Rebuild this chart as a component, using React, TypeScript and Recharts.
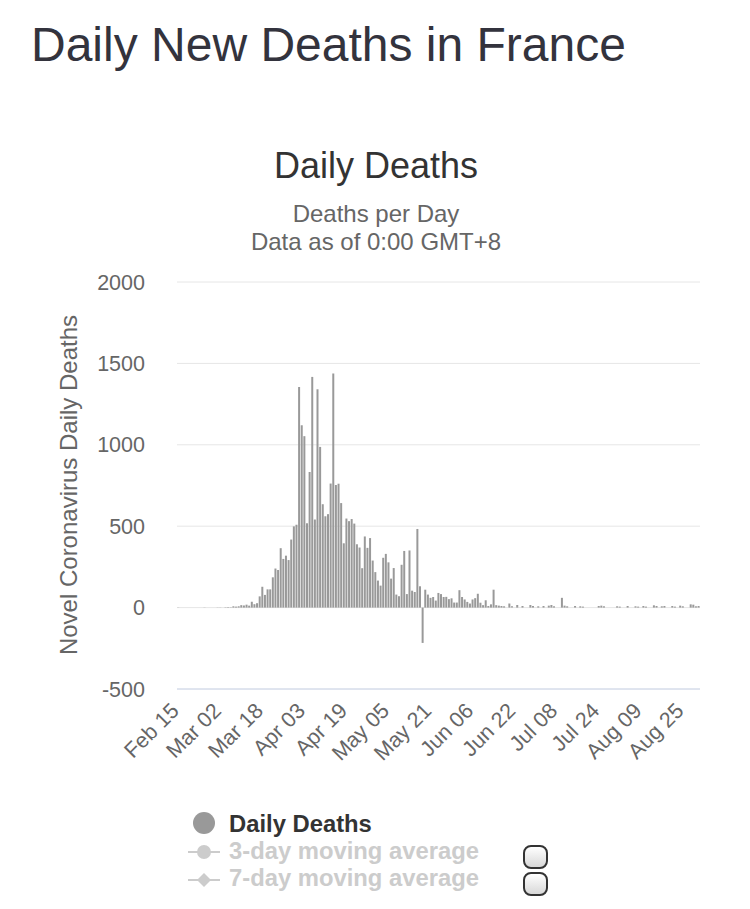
import { BarChart, Bar, XAxis, YAxis, CartesianGrid, Legend } from 'recharts';

const FONT = '"Liberation Sans", Arial, Helvetica, sans-serif';

// daily deaths, one array per month
const febDeaths = [1, 0, 0, 0, 0, 0, 0, 0, 0, 0, 1, 0, 0, 0, 0]; // Feb 15..29
const marDeaths = [1, 1, 0, 2, 3, 2, 8, 6, 8, 15, 13, 18, 12, 36, 21, 27, 69, 128, 78, 112, 112, 186, 240, 231, 365, 299, 319, 292, 418, 499, 509];
const aprDeaths = [1355, 1120, 1053, 518, 833, 1417, 541, 1341, 987, 635, 561, 574, 762, 1438, 753, 761, 642, 395, 547, 531, 544, 516, 389, 369, 242, 437, 367, 427, 289, 218];
const mayDeaths = [166, 135, 306, 330, 278, 178, 243, 80, 70, 263, 348, 83, 351, 104, 96, 483, 131, -217, 110, 80, 60, 65, 43, 90, 83, 65, 66, 52, 57, 31, 31];
const junDeaths = [107, 65, 50, 35, 25, 50, 58, 85, 30, 15, 45, 10, 20, 110, 15, 12, 10, 8, 0, 25, 8, 0, 16, 0, 10, 0, 0, 16, 10, 0];
const julDeaths = [8, 0, 10, 0, 12, 16, 8, 0, 0, 60, 12, 8, 0, 0, 10, 0, 8, 6, 0, 0, 0, 0, 0, 10, 12, 8, 0, 0, 0, 0, 8];
const augDeaths = [6, 0, 0, 10, 0, 0, 8, 6, 0, 10, 6, 0, 0, 14, 10, 0, 8, 10, 0, 0, 10, 6, 0, 12, 8, 0, 0, 20, 18, 8, 10];

const months = ['Feb', 'Mar', 'Apr', 'May', 'Jun', 'Jul', 'Aug'];
const firstDay = [15, 1, 1, 1, 1, 1, 1];
const monthSeries = [febDeaths, marDeaths, aprDeaths, mayDeaths, junDeaths, julDeaths, augDeaths];

const yTicks = [-500, 0, 500, 1000, 1500, 2000];
const legendNames = ['Daily Deaths', '3-day moving average', '7-day moving average'];

const data: { date: string; deaths: number }[] = [];
monthSeries.forEach((vals, m) => {
  vals.forEach((v, i) => {
    const d = firstDay[m] + i;
    data.push({ date: `${months[m]} ${d < 10 ? '0' + d : d}`, deaths: v });
  });
});

const XTick = ({ x, y, payload }: any) => {
  const tx = x + 2;
  const ty = y + 23;
  return (
    <text x={tx} y={ty} transform={`rotate(-45, ${tx}, ${ty})`} textAnchor="end"
      fill="#666" fontSize={21.5} fontFamily={FONT}>
      {payload.value}
    </text>
  );
};

const renderLegend = () => (
  <div style={{ position: 'relative', width: 750, height: 100, fontFamily: FONT }}>
    <svg width={60} height={100} style={{ position: 'absolute', left: 180, top: 0 }}>
      <circle cx={24} cy={18} r={11} fill="#999" />
      <line x1={8} x2={40} y1={47} y2={47} stroke="#ccc" strokeWidth={2} />
      <circle cx={24} cy={47} r={7} fill="#ccc" />
      <line x1={8} x2={40} y1={75} y2={75} stroke="#ccc" strokeWidth={2} />
      <path d="M24 68 L31 75 L24 82 L17 75 Z" fill="#ccc" />
    </svg>
    {legendNames.map((n, i) => (
      <div key={n} style={{
        position: 'absolute', left: 229, top: 7 + i * 27, fontSize: 23.8, lineHeight: '24px',
        fontWeight: 'bold', color: i === 0 ? '#333' : '#ccc', whiteSpace: 'nowrap',
      }}>{n}</div>
    ))}
    {[40, 67].map((t) => (
      <div key={t} style={{
        position: 'absolute', left: 523, top: t, width: 21, height: 20, borderRadius: 8,
        border: '2px solid #333', background: 'linear-gradient(#fff, #d8d8d8)',
      }} />
    ))}
  </div>
);

export default function App() {
  return (
    <div style={{ position: 'relative', width: 750, height: 909, margin: -8, background: '#fff', fontFamily: FONT }}>
      <div style={{ position: 'absolute', left: 31, top: 21, fontSize: 48, lineHeight: '48px', color: '#33333d', whiteSpace: 'nowrap' }}>
        Daily New Deaths in France
      </div>
      <div style={{ position: 'absolute', left: 0, width: 752, top: 148, textAlign: 'center', fontSize: 36, lineHeight: '36px', color: '#333' }}>
        Daily Deaths
      </div>
      <div style={{ position: 'absolute', left: 0, width: 752, top: 200, textAlign: 'center', fontSize: 24, lineHeight: '28px', color: '#666' }}>
        Deaths per Day<br />Data as of 0:00 GMT+8
      </div>
      <div style={{
        position: 'absolute', left: 69 - 200, top: 485 - 12, width: 400, height: 24, textAlign: 'center',
        fontSize: 24, lineHeight: '24px', color: '#666', transform: 'rotate(-90deg)', whiteSpace: 'nowrap',
      }}>
        Novel Coronavirus Daily Deaths
      </div>
      <div style={{ position: 'absolute', left: 0, top: 0 }}>
        <BarChart width={750} height={909} data={data} barCategoryGap="8%"
          margin={{ top: 282, right: 50, left: 0, bottom: 149 }}>
          <CartesianGrid vertical={false} stroke="#e6e6e6" />
          <XAxis dataKey="date" interval={15} height={71} tick={<XTick />} tickLine={false}
            tickSize={0} tickMargin={0} axisLine={{ stroke: '#ccd6eb' }} />
          <YAxis domain={[-500, 2000]} ticks={yTicks} width={177} axisLine={false} tickLine={false}
            tickSize={0} tickMargin={32} tick={{ fill: '#666', fontSize: 21.5, fontFamily: FONT }} />
          <Bar dataKey="deaths" name={legendNames[0]} fill="#999" isAnimationActive={false} />
          <Legend content={renderLegend} layout="horizontal" verticalAlign="middle" align="center"
            wrapperStyle={{ top: 805, left: 0, width: 750, height: 100 }} />
        </BarChart>
      </div>
    </div>
  );
}
